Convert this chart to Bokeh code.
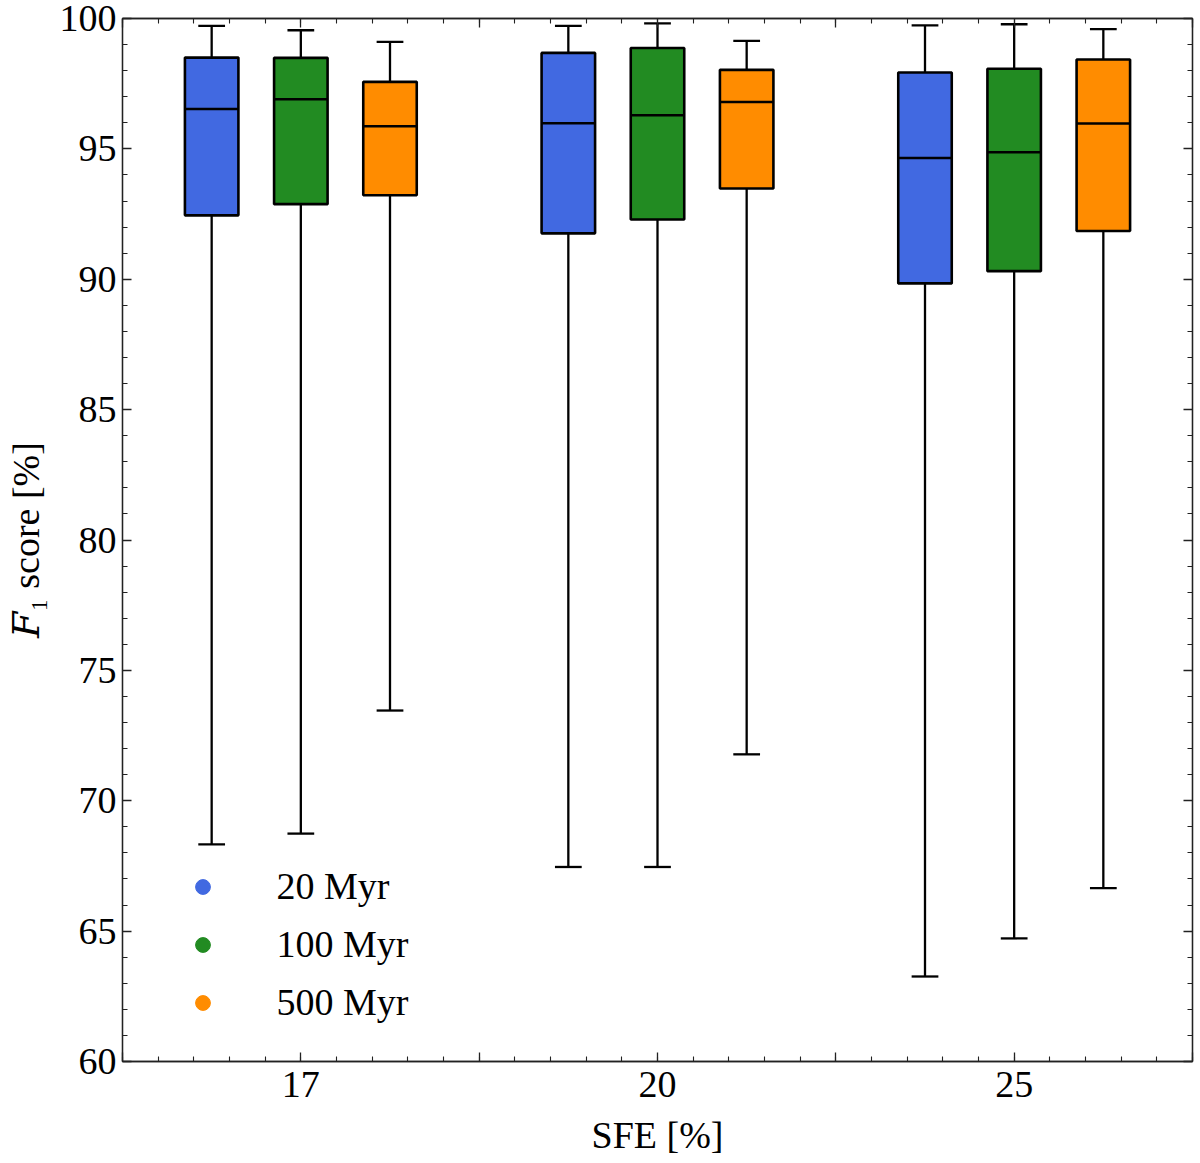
import numpy as np
from bokeh.plotting import figure
from bokeh.embed import file_html
from bokeh.resources import INLINE
from bokeh.models import (
    ColumnDataSource,
    Range1d,
    FixedTicker,
    SingleIntervalTicker,
    LinearAxis,
    Legend,
    LegendItem,
)

# ── Data (F1 score in %, one value per SFE group) ──────────
SFE_LABELS = ["17", "20", "25"]
AGE_LABELS = ["20 Myr", "100 Myr", "500 Myr"]
AGE_COLORS = ["#4169e1", "#228b22", "#ff8c00"]

# 20 Myr
upper_20 = [99.72, 99.72, 99.74]
q3_20 = [98.50, 98.68, 97.93]
median_20 = [96.53, 95.98, 94.65]
q1_20 = [92.45, 91.76, 89.84]
lower_20 = [68.33, 67.46, 63.26]

# 100 Myr
upper_100 = [99.55, 99.81, 99.78]
q3_100 = [98.49, 98.87, 98.07]
median_100 = [96.90, 96.29, 94.87]
q1_100 = [92.88, 92.29, 90.31]
lower_100 = [68.74, 67.46, 64.72]

# 500 Myr
upper_500 = [99.10, 99.14, 99.59]
q3_500 = [97.57, 98.03, 98.43]
median_500 = [95.87, 96.80, 95.97]
q1_500 = [93.22, 93.48, 91.85]
lower_500 = [73.46, 71.78, 66.65]

SERIES = [
    (upper_20, q3_20, median_20, q1_20, lower_20),
    (upper_100, q3_100, median_100, q1_100, lower_100),
    (upper_500, q3_500, median_500, q1_500, lower_500),
]

FONT = "Liberation Serif"
FONT_SIZE = "38px"
INK = "#000000"
FRAME = "#222222"

BOX_W = 0.15
CAP_W = 0.075
OFFSETS = [-0.25, 0.0, 0.25]

p = figure(
    width=1194,
    height=1163,
    x_range=Range1d(0.5, 3.5),
    y_range=Range1d(60, 100),
    output_backend="svg",
    toolbar_location=None,
    min_border_left=122,
    min_border_right=2,
    min_border_top=18,
    min_border_bottom=102,
    background_fill_color="white",
    border_fill_color="white",
    outline_line_color=FRAME,
    outline_line_width=1.3,
)
p.grid.visible = False

# ── Boxes ──────────────────────────────────────────────────
group_x = np.arange(1, len(SFE_LABELS) + 1)
legend_renderers = []
for (upper, q3, med, q1, lower), off, color in zip(SERIES, OFFSETS, AGE_COLORS):
    pos = group_x + off
    src = ColumnDataSource(dict(
        x=pos, upper=upper, q3=q3, med=med, q1=q1, lower=lower,
        cl=pos - CAP_W / 2, cr=pos + CAP_W / 2,
        bl=pos - BOX_W / 2, br=pos + BOX_W / 2,
    ))
    # legend marker, drawn first so the box body covers it
    r = p.scatter("x", "med", source=src, marker="circle", size=15,
                  fill_color=color, line_color=color)
    legend_renderers.append(r)
    # whiskers + caps
    p.segment("x", "q3", "x", "upper", source=src, line_color=INK, line_width=2.3)
    p.segment("x", "q1", "x", "lower", source=src, line_color=INK, line_width=2.3)
    p.segment("cl", "upper", "cr", "upper", source=src, line_color=INK, line_width=2.3)
    p.segment("cl", "lower", "cr", "lower", source=src, line_color=INK, line_width=2.3)
    # box body
    p.vbar(x="x", width=BOX_W, top="q3", bottom="q1", source=src,
           fill_color=color, line_color=INK, line_width=2.6)
    # median
    p.segment("bl", "med", "br", "med", source=src, line_color=INK, line_width=2.5)

# ── Axes ───────────────────────────────────────────────────
x_major = [0.5, 1, 1.5, 2, 2.5, 3, 3.5]
x_minor = list(np.round(np.arange(0.5, 3.51, 0.1), 2))
x_ticker = FixedTicker(ticks=x_major, minor_ticks=x_minor)
x_overrides = {v: "" for v in x_major}
for i, lab in enumerate(SFE_LABELS):
    x_overrides[i + 1] = lab

y_ticker = SingleIntervalTicker(interval=5, num_minor_ticks=5)


def style_axis(ax):
    ax.axis_line_color = FRAME
    ax.axis_line_width = 1.3
    ax.major_tick_line_color = FRAME
    ax.minor_tick_line_color = FRAME
    ax.major_tick_line_width = 1.3
    ax.minor_tick_line_width = 1.1
    ax.major_tick_in = 9
    ax.major_tick_out = 0
    ax.minor_tick_in = 5
    ax.minor_tick_out = 0
    ax.major_label_text_font = FONT
    ax.major_label_text_font_size = FONT_SIZE
    ax.major_label_text_color = INK
    ax.axis_label_text_font = FONT
    ax.axis_label_text_font_size = FONT_SIZE
    ax.axis_label_text_font_style = "normal"
    ax.axis_label_text_color = INK


p.xaxis.ticker = x_ticker
p.xaxis.major_label_overrides = x_overrides
p.yaxis.ticker = y_ticker
style_axis(p.xaxis[0])
style_axis(p.yaxis[0])
p.xaxis.major_label_standoff = 10
p.yaxis.major_label_standoff = 6
p.xaxis.axis_label = "SFE [%]"
p.xaxis.axis_label_standoff = 14
# italic F (math italic letter) with subscript 1
p.yaxis.axis_label = "\U0001D439\u2081 score [%]"
p.yaxis.axis_label_text_font = "Liberation Serif, DejaVu Serif"
p.yaxis.axis_label_standoff = 10

# mirrored ticks on top and right (no labels)
top_ax = LinearAxis(ticker=x_ticker)
right_ax = LinearAxis(ticker=y_ticker)
for ax in (top_ax, right_ax):
    style_axis(ax)
    ax.major_label_text_font_size = "1px"
    ax.major_label_text_color = None
    ax.major_label_standoff = 0
p.add_layout(top_ax, "above")
p.add_layout(right_ax, "right")

# ── Legend ─────────────────────────────────────────────────
legend = Legend(
    items=[LegendItem(label=lab, renderers=[r]) for lab, r in zip(AGE_LABELS, legend_renderers)],
    location=(61.5, 37),
    glyph_width=37,
    glyph_height=37,
    label_standoff=56,
    label_height=44,
    spacing=14,
    padding=0,
    margin=0,
    border_line_color=None,
    background_fill_alpha=0,
    label_text_font=FONT,
    label_text_font_size=FONT_SIZE,
    label_text_color=INK,
)
p.add_layout(legend)

open("out.html", "w").write(file_html(p, INLINE))
